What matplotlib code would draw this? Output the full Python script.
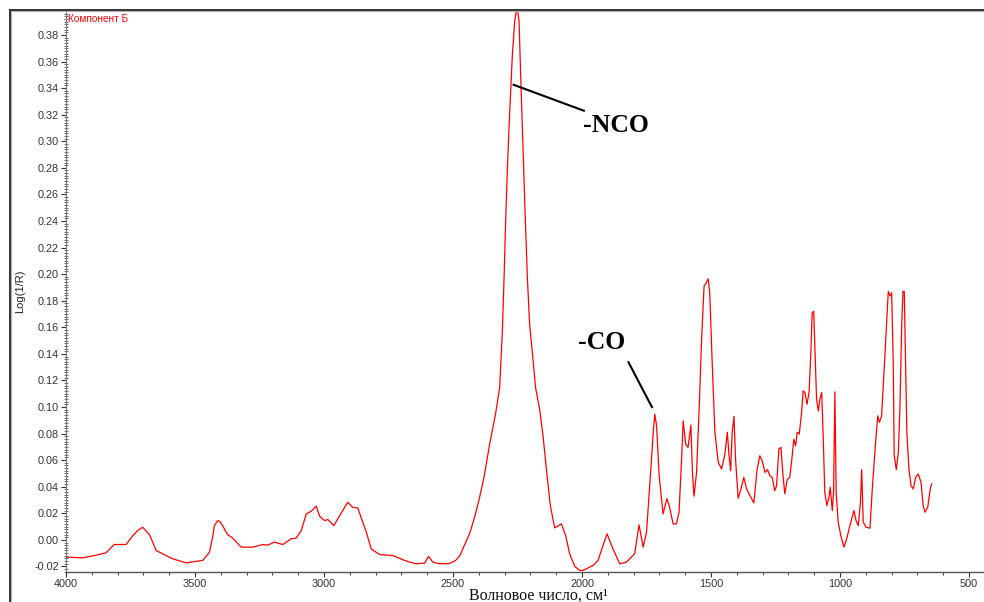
import matplotlib
matplotlib.use("Agg")
import matplotlib.pyplot as plt
import matplotlib.ticker as mticker
from matplotlib.lines import Line2D

plt.rcParams.update({
    "font.family": "Liberation Sans",
    "font.size": 7.5,
})

RED = "#ff0000"
TICK_COLOR = "#333333"

# ── Spectrum: wavenumber (cm-1) and Log(1/R) ──────────────────────────────────
wavenumber = [
    4000, 3935, 3890, 3845, 3813, 3767, 3742, 3722, 3703, 3677,
    3664, 3651, 3625, 3586, 3535, 3470, 3444, 3431, 3425, 3412,
    3403, 3393, 3374, 3354, 3321, 3276, 3237, 3218, 3192, 3160,
    3127, 3108, 3088, 3069, 3050, 3030, 3017, 2998, 2985, 2962,
    2940, 2908, 2889, 2869, 2850, 2836, 2817, 2785, 2772, 2733,
    2694, 2668, 2642, 2610, 2595, 2578, 2552, 2513, 2490, 2474,
    2435, 2415, 2397, 2380, 2358, 2335, 2319, 2309, 2302, 2296,
    2289, 2280, 2270, 2261, 2254, 2250, 2244, 2238, 2231, 2222,
    2212, 2203, 2192, 2180, 2164, 2151, 2138, 2123, 2106, 2093,
    2080, 2063, 2048, 2028, 2009, 1996, 1975, 1955, 1938, 1920,
    1903, 1880, 1854, 1828, 1796, 1779, 1763, 1750, 1735, 1724,
    1718, 1711, 1701, 1686, 1671, 1662, 1647, 1634, 1624, 1614,
    1608, 1598, 1589, 1578, 1572, 1566, 1556, 1546, 1537, 1527,
    1517, 1511, 1505, 1496, 1485, 1472, 1459, 1446, 1437, 1430,
    1424, 1418, 1411, 1405, 1395, 1384, 1373, 1362, 1349, 1334,
    1322, 1311, 1302, 1291, 1281, 1272, 1263, 1253, 1246, 1237,
    1229, 1221, 1214, 1205, 1195, 1188, 1179, 1172, 1166, 1158,
    1149, 1143, 1136, 1128, 1120, 1113, 1108, 1102, 1097, 1091,
    1084, 1078, 1071, 1065, 1059, 1051, 1043, 1038, 1030, 1025,
    1020, 1015, 1007, 997, 985, 974, 965, 955, 946, 938,
    929, 921, 916, 910, 899, 884, 875, 864, 854, 847,
    839, 829, 820, 813, 806, 800, 794, 790, 782, 774,
    768, 761, 756, 751, 746, 741, 733, 725, 716, 707,
    697, 686, 678, 671, 660, 654, 649, 645,
]
log_1_r = [
    -0.0130, -0.0135, -0.0118, -0.0098, -0.0035, -0.0035, 0.0030, 0.0070, 0.0095, 0.0040,
    -0.0017, -0.0080, -0.0105, -0.0143, -0.0173, -0.0155, -0.0093, 0.0030, 0.0107, 0.0145,
    0.0137, 0.0107, 0.0040, 0.0013, -0.0055, -0.0055, -0.0035, -0.0040, -0.0017, -0.0035,
    0.0008, 0.0013, 0.0070, 0.0195, 0.0215, 0.0253, 0.0178, 0.0145, 0.0153, 0.0107,
    0.0180, 0.0283, 0.0245, 0.0240, 0.0133, 0.0058, -0.0068, -0.0110, -0.0113, -0.0118,
    -0.0150, -0.0168, -0.0180, -0.0175, -0.0125, -0.0168, -0.0180, -0.0178, -0.0155, -0.0120,
    0.0050, 0.0180, 0.0320, 0.0470, 0.0720, 0.0950, 0.1150, 0.1560, 0.1980, 0.2400,
    0.2810, 0.3230, 0.3650, 0.3900, 0.3990, 0.3990, 0.3900, 0.3510, 0.3090, 0.2540,
    0.1980, 0.1620, 0.1400, 0.1145, 0.0980, 0.0780, 0.0530, 0.0260, 0.0090, 0.0105,
    0.0120, 0.0030, -0.0105, -0.0200, -0.0230, -0.0230, -0.0210, -0.0190, -0.0155, -0.0050,
    0.0045, -0.0068, -0.0180, -0.0168, -0.0105, 0.0113, -0.0055, 0.0058, 0.0483, 0.0810,
    0.0946, 0.0858, 0.0483, 0.0195, 0.0310, 0.0258, 0.0120, 0.0120, 0.0208, 0.0608,
    0.0896, 0.0720, 0.0696, 0.0864, 0.0508, 0.0328, 0.0508, 0.0984, 0.1485, 0.1910,
    0.1940, 0.1965, 0.1860, 0.1360, 0.0810, 0.0584, 0.0533, 0.0646, 0.0810, 0.0633,
    0.0520, 0.0810, 0.0930, 0.0608, 0.0313, 0.0383, 0.0470, 0.0383, 0.0333, 0.0278,
    0.0520, 0.0633, 0.0596, 0.0508, 0.0528, 0.0483, 0.0470, 0.0370, 0.0408, 0.0683,
    0.0696, 0.0483, 0.0346, 0.0453, 0.0470, 0.0584, 0.0758, 0.0708, 0.0810, 0.0796,
    0.0959, 0.1121, 0.1110, 0.1020, 0.1110, 0.1410, 0.1710, 0.1720, 0.1410, 0.1060,
    0.0970, 0.1060, 0.1110, 0.0758, 0.0358, 0.0258, 0.0320, 0.0396, 0.0220, 0.0358,
    0.1114, 0.0358, 0.0133, 0.0032, -0.0055, 0.0008, 0.0083, 0.0158, 0.0220, 0.0145,
    0.0107, 0.0283, 0.0528, 0.0133, 0.0095, 0.0088, 0.0383, 0.0683, 0.0933, 0.0884,
    0.0933, 0.1280, 0.1610, 0.1870, 0.1835, 0.1860, 0.1360, 0.0633, 0.0528, 0.0659,
    0.0984, 0.1610, 0.1870, 0.1870, 0.1360, 0.0810, 0.0533, 0.0408, 0.0383, 0.0470,
    0.0496, 0.0433, 0.0258, 0.0208, 0.0246, 0.0333, 0.0396, 0.0420,
]

x_ticks = [4000, 3500, 3000, 2500, 2000, 1500, 1000, 500]
y_ticks = [-0.02, 0.00, 0.02, 0.04, 0.06, 0.08, 0.10, 0.12, 0.14, 0.16, 0.18,
           0.20, 0.22, 0.24, 0.26, 0.28, 0.30, 0.32, 0.34, 0.36, 0.38]

fig = plt.figure(figsize=(9.84, 6.02), dpi=100)
ax = fig.add_axes([66 / 984, 30 / 602, 1 - 66 / 984, 562 / 602])

ax.plot(wavenumber, log_1_r, color=RED, linewidth=0.9, clip_on=True)

ax.set_xlim(4000, 442)
ax.set_ylim(-0.0242, 0.3988)

ax.set_xticks(x_ticks)
ax.xaxis.set_minor_locator(mticker.MultipleLocator(100))
ax.set_yticks(y_ticks)
ax.yaxis.set_major_formatter(mticker.FormatStrFormatter("%.2f"))
ax.yaxis.set_minor_locator(mticker.MultipleLocator(0.002))

ax.tick_params(axis="both", which="major", colors=TICK_COLOR, labelsize=7.8,
               length=3.5, width=0.8)
ax.tick_params(axis="y", which="major", pad=1.5)
ax.tick_params(axis="x", which="major", pad=1.8)
ax.tick_params(axis="y", which="minor", direction="inout", length=2.5,
               width=0.6, color="#555555")
ax.tick_params(axis="x", which="minor", length=2.5, width=0.7, color="#444444")

for side in ("top", "right"):
    ax.spines[side].set_visible(False)
ax.spines["left"].set_color("#777777")
ax.spines["left"].set_linewidth(0.8)
ax.spines["bottom"].set_color("#555555")
ax.spines["bottom"].set_linewidth(1.0)

ax.set_ylabel("Log(1/R)", fontsize=8, color="#222222", labelpad=7)

# series name in the top-left corner of the plot
ax.text(0.0025, 0.993, "Компонент Б", transform=ax.transAxes, color=RED,
        fontsize=7.2, ha="left", va="top")

# x axis title, serif like the peak labels
fig.text(538 / 984, 2.5 / 602, "Волновое число, см¹", family="Liberation Serif",
         fontsize=11.5, ha="center", va="baseline", color="#111111")

# peak labels
ax.plot([2265, 1993], [0.3425, 0.323], color="black", linewidth=1.5)
ax.text(1997, 0.3117, "-NCO", family="Liberation Serif", fontweight="bold",
        fontsize=18.5, ha="left", va="center", color="black")
ax.plot([1820, 1729], [0.1337, 0.0999], color="black", linewidth=1.5)
ax.text(2017, 0.1487, "-CO", family="Liberation Serif", fontweight="bold",
        fontsize=18.5, ha="left", va="center", color="black")

# window frame along the top and left edges
for xs, ys, c, lw in [
    ([9.5 / 984, 1.0], [1 - 9.5 / 602, 1 - 9.5 / 602], "#333333", 1.4),
    ([9.5 / 984, 9.5 / 984], [0.0, 1 - 9.5 / 602], "#333333", 1.4),
    ([11 / 984, 1.0], [1 - 11 / 602, 1 - 11 / 602], "#b0b0b0", 0.8),
    ([11 / 984, 11 / 984], [0.0, 1 - 11 / 602], "#b0b0b0", 0.8),
]:
    fig.add_artist(Line2D(xs, ys, transform=fig.transFigure, color=c, linewidth=lw))

fig.savefig("out.png", dpi=100)
